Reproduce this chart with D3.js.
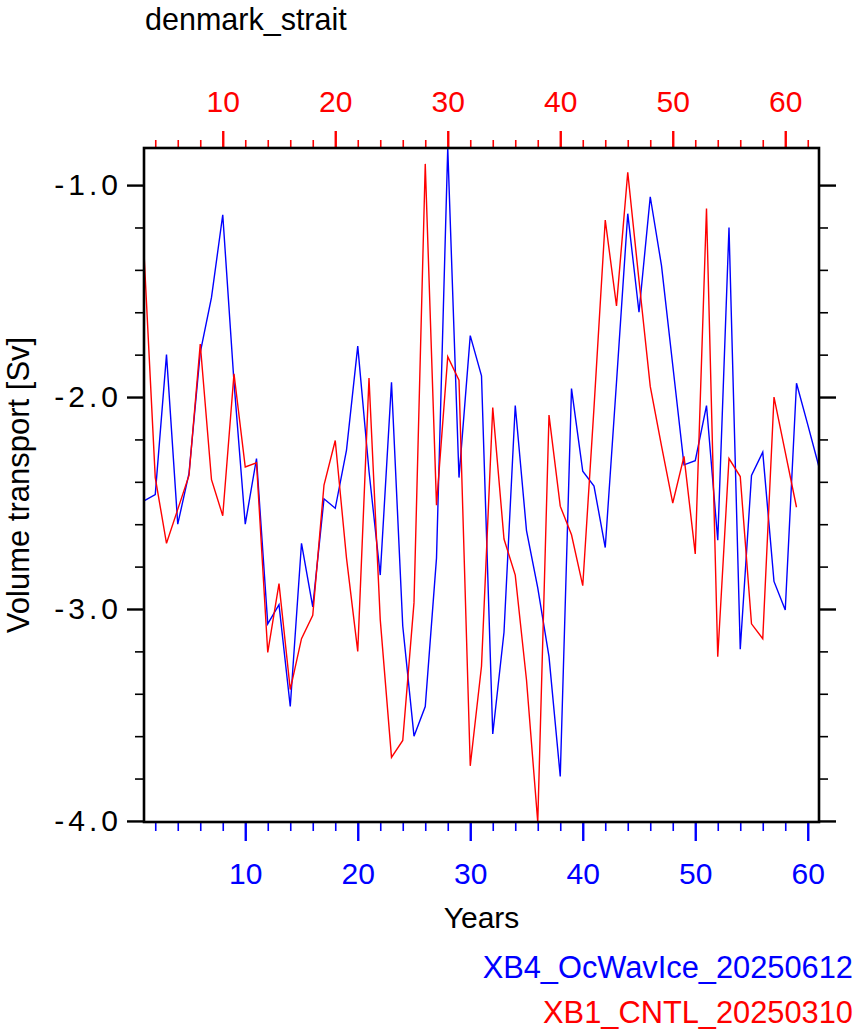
<!DOCTYPE html>
<html>
<head>
<meta charset="utf-8">
<script src="https://cdn.jsdelivr.net/npm/d3@7"></script>
<style>
  html, body { margin: 0; padding: 0; background: #fff; }
  text { font-family: "Liberation Sans", Arial, Helvetica, sans-serif; }
</style>
</head>
<body>
<div id="chart"></div>
<script>
/* denmark_strait volume transport, two runs */

const chartTitle = "denmark_strait";
const yLabel = "Volume transport [Sv]";
const xLabel = "Years";

// blue run: years 1..61 (bottom axis)
const blueName = "XB4_OcWavIce_20250612";
const blueFirstYear = 1;
const blueValues = [
    -2.49, -2.46, -1.80, -2.60, -2.36, -1.79, -1.53, -1.14, -1.93, -2.60,
    -2.29, -3.07, -2.98, -3.46, -2.69, -2.99, -2.48, -2.525, -2.25, -1.76,
    -2.35, -2.84, -1.93, -3.08, -3.60, -3.46, -2.76, -0.825, -2.38, -1.71,
    -1.90, -3.59, -3.11, -2.04, -2.63, -2.90, -3.225, -3.79, -1.96, -2.35,
    -2.42, -2.71, -1.93, -1.135, -1.60, -1.055, -1.38, -1.85, -2.32, -2.30,
    -2.04, -2.675, -1.20, -3.19, -2.37, -2.26, -2.87, -3.005, -1.935, -2.13,
    -2.33
];

// red run: years 3..61 (top axis)
const redName = "XB1_CNTL_20250310";
const redFirstYear = 3;
const redValues = [
    -1.32, -2.38, -2.69, -2.53, -2.37, -1.75, -2.39, -2.56, -1.89, -2.33,
    -2.31, -3.205, -2.88, -3.38, -3.14, -3.03, -2.415, -2.205, -2.76, -3.20,
    -1.91, -3.05, -3.70, -3.62, -2.97, -0.90, -2.51, -1.81, -1.92, -3.74,
    -3.27, -2.05, -2.67, -2.84, -3.335, -4.005, -2.085, -2.515, -2.65, -2.89,
    -2.05, -1.165, -1.57, -0.94, -1.45, -1.95, -2.23, -2.50, -2.28, -2.74,
    -1.11, -3.225, -2.29, -2.375, -3.07, -3.14, -2.00, -2.26, -2.52
];

const bottomTicks = [10, 20, 30, 40, 50, 60];
const topTicks = [10, 20, 30, 40, 50, 60];
const yTicks = [-4.0, -3.0, -2.0, -1.0];

const blueColor = "#0000ff";
const redColor = "#ff0000";

const width = 858;
const height = 1035;
const margin = { top: 148, right: 39, bottom: 213, left: 144 };
const fontSize = 30;

const blueData = blueValues.map((v, i) => ({ year: blueFirstYear + i, value: v }));
const redData = redValues.map((v, i) => ({ year: redFirstYear + i, value: v }));

const svg = d3.select("#chart").append("svg")
    .attr("width", width)
    .attr("height", height);

const x = d3.scaleLinear()
    .domain([blueFirstYear, blueFirstYear + blueValues.length - 1])
    .range([margin.left, width - margin.right]);

// top axis is shifted by two years
const xTop = d3.scaleLinear()
    .domain([redFirstYear, redFirstYear + blueValues.length - 1])
    .range([margin.left, width - margin.right]);

const allValues = blueValues.concat(redValues);
const y = d3.scaleLinear()
    .domain([d3.min(allValues), d3.max(allValues)])
    .range([height - margin.bottom, margin.top]);

const x0 = margin.left, x1 = width - margin.right;
const y0 = height - margin.bottom, y1 = margin.top;

function minorTicks(scale, step, start, majors) {
    const [a, b] = scale.domain();
    const out = [];
    for (let v = start; v <= b + 1e-9; v += step) {
        const r = Math.round(v * 100) / 100;
        if (r >= a - 1e-9 && !majors.some(m => Math.abs(m - r) < 1e-6)) out.push(r);
    }
    return out;
}

function drawAxis(gen, transform, color, width) {
    const g = svg.append("g").attr("transform", transform).call(gen);
    g.select(".domain").remove();
    g.selectAll(".tick line").attr("stroke", color).attr("stroke-width", width);
    g.selectAll(".tick text")
        .attr("fill", color)
        .style("font-size", fontSize + "px");
    return g;
}

// bottom axis (blue)
drawAxis(d3.axisBottom(x).tickValues(minorTicks(x, 2, 2, bottomTicks)).tickSize(9).tickFormat(""),
    `translate(0,${y0})`, blueColor, 1.6);
drawAxis(d3.axisBottom(x).tickValues(bottomTicks).tickSize(19).tickPadding(22).tickFormat(d3.format("d")),
    `translate(0,${y0})`, blueColor, 2.4);

// top axis (red)
drawAxis(d3.axisTop(xTop).tickValues(minorTicks(xTop, 2, 4, topTicks)).tickSize(8).tickFormat(""),
    `translate(0,${y1})`, redColor, 1.6);
drawAxis(d3.axisTop(xTop).tickValues(topTicks).tickSize(17).tickPadding(19).tickFormat(d3.format("d")),
    `translate(0,${y1})`, redColor, 2.4);

// left and right axes
const yMinor = minorTicks(y, 0.2, -4.0, yTicks);
drawAxis(d3.axisLeft(y).tickValues(yMinor).tickSize(9).tickFormat(""),
    `translate(${x0},0)`, "#000", 1.6);
drawAxis(d3.axisLeft(y).tickValues(yTicks).tickSize(17).tickPadding(5).tickFormat(d => d.toFixed(1)),
    `translate(${x0},0)`, "#000", 2.4)
    .selectAll(".tick text").style("letter-spacing", "4px");
drawAxis(d3.axisRight(y).tickValues(yMinor).tickSize(9).tickFormat(""),
    `translate(${x1},0)`, "#000", 1.6);
drawAxis(d3.axisRight(y).tickValues(yTicks).tickSize(17).tickFormat(""),
    `translate(${x1},0)`, "#000", 2.4);

// series
const line = d3.line().x(d => x(d.year)).y(d => y(d.value));
const lineTop = d3.line().x(d => xTop(d.year)).y(d => y(d.value));

svg.append("path")
    .datum(blueData)
    .attr("fill", "none")
    .attr("stroke", blueColor)
    .attr("stroke-width", 1.4)
    .attr("d", line);

svg.append("path")
    .datum(redData)
    .attr("fill", "none")
    .attr("stroke", redColor)
    .attr("stroke-width", 1.4)
    .attr("d", lineTop);

// frame
svg.append("rect")
    .attr("x", x0)
    .attr("y", y1)
    .attr("width", x1 - x0)
    .attr("height", y0 - y1)
    .attr("fill", "none")
    .attr("stroke", "#000")
    .attr("stroke-width", 2.6);

// labels
svg.append("text")
    .attr("x", 145)
    .attr("y", 30)
    .style("font-size", "30.5px")
    .text(chartTitle);

svg.append("text")
    .attr("transform", `translate(29,${(y0 + y1) / 2}) rotate(-90)`)
    .attr("text-anchor", "middle")
    .style("font-size", "31px")
    .text(yLabel);

svg.append("text")
    .attr("x", (x0 + x1) / 2)
    .attr("y", 928)
    .attr("text-anchor", "middle")
    .style("font-size", fontSize + "px")
    .text(xLabel);

// legend
svg.append("text")
    .attr("x", 853)
    .attr("y", 978)
    .attr("text-anchor", "end")
    .attr("fill", blueColor)
    .style("font-size", "30.8px")
    .text(blueName);

svg.append("text")
    .attr("x", 853)
    .attr("y", 1023)
    .attr("text-anchor", "end")
    .attr("fill", redColor)
    .style("font-size", "30.8px")
    .text(redName);
</script>
</body>
</html>
